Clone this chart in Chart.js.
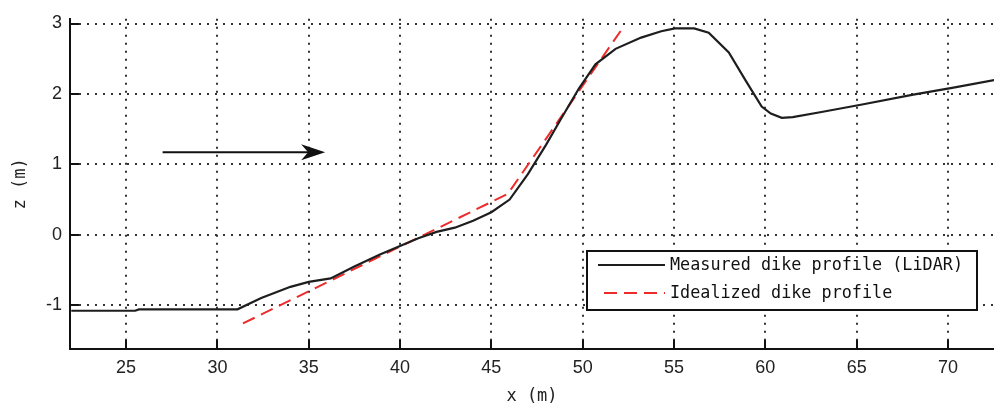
<!DOCTYPE html>
<html>
<head>
<meta charset="utf-8">
<script src="https://cdn.jsdelivr.net/npm/chart.js@4/dist/chart.umd.min.js"></script>
<style>
  html, body { margin: 0; padding: 0; background: #fff; }
  #wrap { width: 994px; height: 407px; }
</style>
</head>
<body>
<div id="wrap"><canvas id="c" width="994" height="407"></canvas></div>
<script>
// ---- data ----
const measuredX = [22.0, 25.5, 25.7, 31.1, 32.4, 34.0, 35.0, 36.2, 37.5, 38.9, 40.0, 41.0, 42.0, 43.0, 44.0, 45.0, 46.0, 47.0, 48.0, 48.8, 49.8, 50.7, 51.8, 53.2, 54.3, 55.05, 56.1, 56.9, 58.0, 58.9, 59.8, 60.3, 60.9, 61.5, 63.0, 65.3, 68.1, 70.3, 72.6];
const measuredZ = [-1.08, -1.08, -1.06, -1.06, -0.90, -0.74, -0.67, -0.62, -0.45, -0.28, -0.16, -0.05, 0.04, 0.10, 0.20, 0.32, 0.50, 0.86, 1.28, 1.64, 2.08, 2.42, 2.64, 2.80, 2.89, 2.93, 2.93, 2.87, 2.59, 2.20, 1.82, 1.72, 1.66, 1.67, 1.74, 1.85, 1.99, 2.09, 2.20];
const idealX = [31.4, 45.9, 52.2];
const idealZ = [-1.26, 0.58, 2.94];
const xTicks = [25, 30, 35, 40, 45, 50, 55, 60, 65, 70];
const yTicks = [-1, 0, 1, 2, 3];
const arrowX = [27.0, 35.9];
const arrowZ = [1.17, 1.17];
const seriesLabels = ['Measured dike profile (LiDAR)', 'Idealized dike profile'];
const xLabel = 'x (m)';
const yLabel = 'z (m)';

const MONO = '"DejaVu Sans Mono", "Liberation Mono", monospace';
const SANS = '"Liberation Sans", Arial, sans-serif';

const toXY = (xs, ys) => xs.map((x, i) => ({ x: x, y: ys[i] }));

const extras = {
  id: 'extras',
  afterDraw(chart) {
    const ctx = chart.ctx;
    const xs = chart.scales.x, ys = chart.scales.y;
    const area = chart.chartArea;
    ctx.save();
    // inward tick marks
    ctx.strokeStyle = '#111';
    ctx.lineWidth = 2;
    ctx.beginPath();
    xTicks.forEach(v => {
      const p = Math.round(xs.getPixelForValue(v));
      ctx.moveTo(p, area.bottom);
      ctx.lineTo(p, area.bottom - 9);
    });
    yTicks.forEach(v => {
      const p = Math.round(ys.getPixelForValue(v));
      ctx.moveTo(area.left, p);
      ctx.lineTo(area.left + 9, p);
    });
    ctx.stroke();

    // arrow
    const ax0 = xs.getPixelForValue(arrowX[0]);
    const ax1 = xs.getPixelForValue(arrowX[1]);
    const ay = ys.getPixelForValue(arrowZ[0]);
    ctx.strokeStyle = '#111';
    ctx.fillStyle = '#111';
    ctx.lineWidth = 2;
    ctx.beginPath();
    ctx.moveTo(ax0, ay);
    ctx.lineTo(ax1 - 14, ay);
    ctx.stroke();
    ctx.beginPath();
    ctx.moveTo(ax1, ay);
    ctx.lineTo(ax1 - 24, ay - 8);
    ctx.lineTo(ax1 - 17, ay);
    ctx.lineTo(ax1 - 24, ay + 8);
    ctx.closePath();
    ctx.fill();

    // legend box
    const lx = 587, ly = 251, lw = 390, lh = 59;
    ctx.fillStyle = '#fff';
    ctx.fillRect(lx, ly, lw, lh);
    ctx.strokeStyle = '#111';
    ctx.lineWidth = 2;
    ctx.strokeRect(lx, ly, lw, lh);
    const rows = [ly + 14, ly + 42];
    chart.data.datasets.forEach((ds, i) => {
      ctx.strokeStyle = ds.borderColor;
      ctx.lineWidth = ds.borderWidth;
      ctx.setLineDash(ds.borderDash || []);
      ctx.beginPath();
      ctx.moveTo(lx + (i === 0 ? 11 : 17), rows[i]);
      ctx.lineTo(lx + 78, rows[i]);
      ctx.stroke();
      ctx.setLineDash([]);
      ctx.fillStyle = '#111';
      ctx.font = '16.8px ' + MONO;
      ctx.textBaseline = 'middle';
      ctx.textAlign = 'left';
      ctx.fillText(ds.label, lx + 83, rows[i] + 1);
    });
    ctx.restore();
  }
};

new Chart(document.getElementById('c'), {
  type: 'line',
  data: {
    datasets: [
      {
        label: seriesLabels[0],
        data: toXY(measuredX, measuredZ),
        borderColor: '#1e1e1e',
        borderWidth: 2.2,
        pointRadius: 0,
        tension: 0,
        fill: false
      },
      {
        label: seriesLabels[1],
        data: toXY(idealX, idealZ),
        borderColor: '#ee2b2b',
        borderWidth: 2,
        borderDash: [13, 7],
        pointRadius: 0,
        tension: 0,
        fill: false
      }
    ]
  },
  options: {
    responsive: false,
    animation: false,
    layout: { padding: { top: 18, right: 0, left: 0, bottom: 0 } },
    plugins: { legend: { display: false }, tooltip: { enabled: false } },
    scales: {
      x: {
        type: 'linear',
        min: 21.93,
        max: 72.52,
        afterBuildTicks: s => { s.ticks = xTicks.map(v => ({ value: v })); },
        afterFit: s => { s.height = 58; },
        ticks: {
          color: '#222',
          font: { family: SANS, size: 18 },
          padding: 8,
          maxRotation: 0,
          autoSkip: false
        },
        grid: {
          color: '#333',
          lineWidth: 2,
          drawTicks: false
        },
        border: { display: true, color: '#111', width: 2, dash: [2, 6] },
        title: {
          display: true,
          text: xLabel,
          color: '#222',
          font: { family: MONO, size: 17 },
          padding: { top: 2, bottom: 0 }
        }
      },
      y: {
        type: 'linear',
        min: -1.623,
        max: 3.067,
        afterBuildTicks: s => { s.ticks = yTicks.map(v => ({ value: v })); },
        afterFit: s => { s.width = 70; },
        ticks: {
          color: '#222',
          font: { family: SANS, size: 18 },
          padding: 8
        },
        grid: {
          color: '#333',
          lineWidth: 2,
          drawTicks: false
        },
        border: { display: true, color: '#111', width: 2, dash: [2, 6] },
        title: {
          display: true,
          text: yLabel,
          color: '#222',
          font: { family: MONO, size: 17 },
          padding: { top: 10, bottom: 8 }
        }
      }
    }
  },
  plugins: [extras]
});
</script>
</body>
</html>
